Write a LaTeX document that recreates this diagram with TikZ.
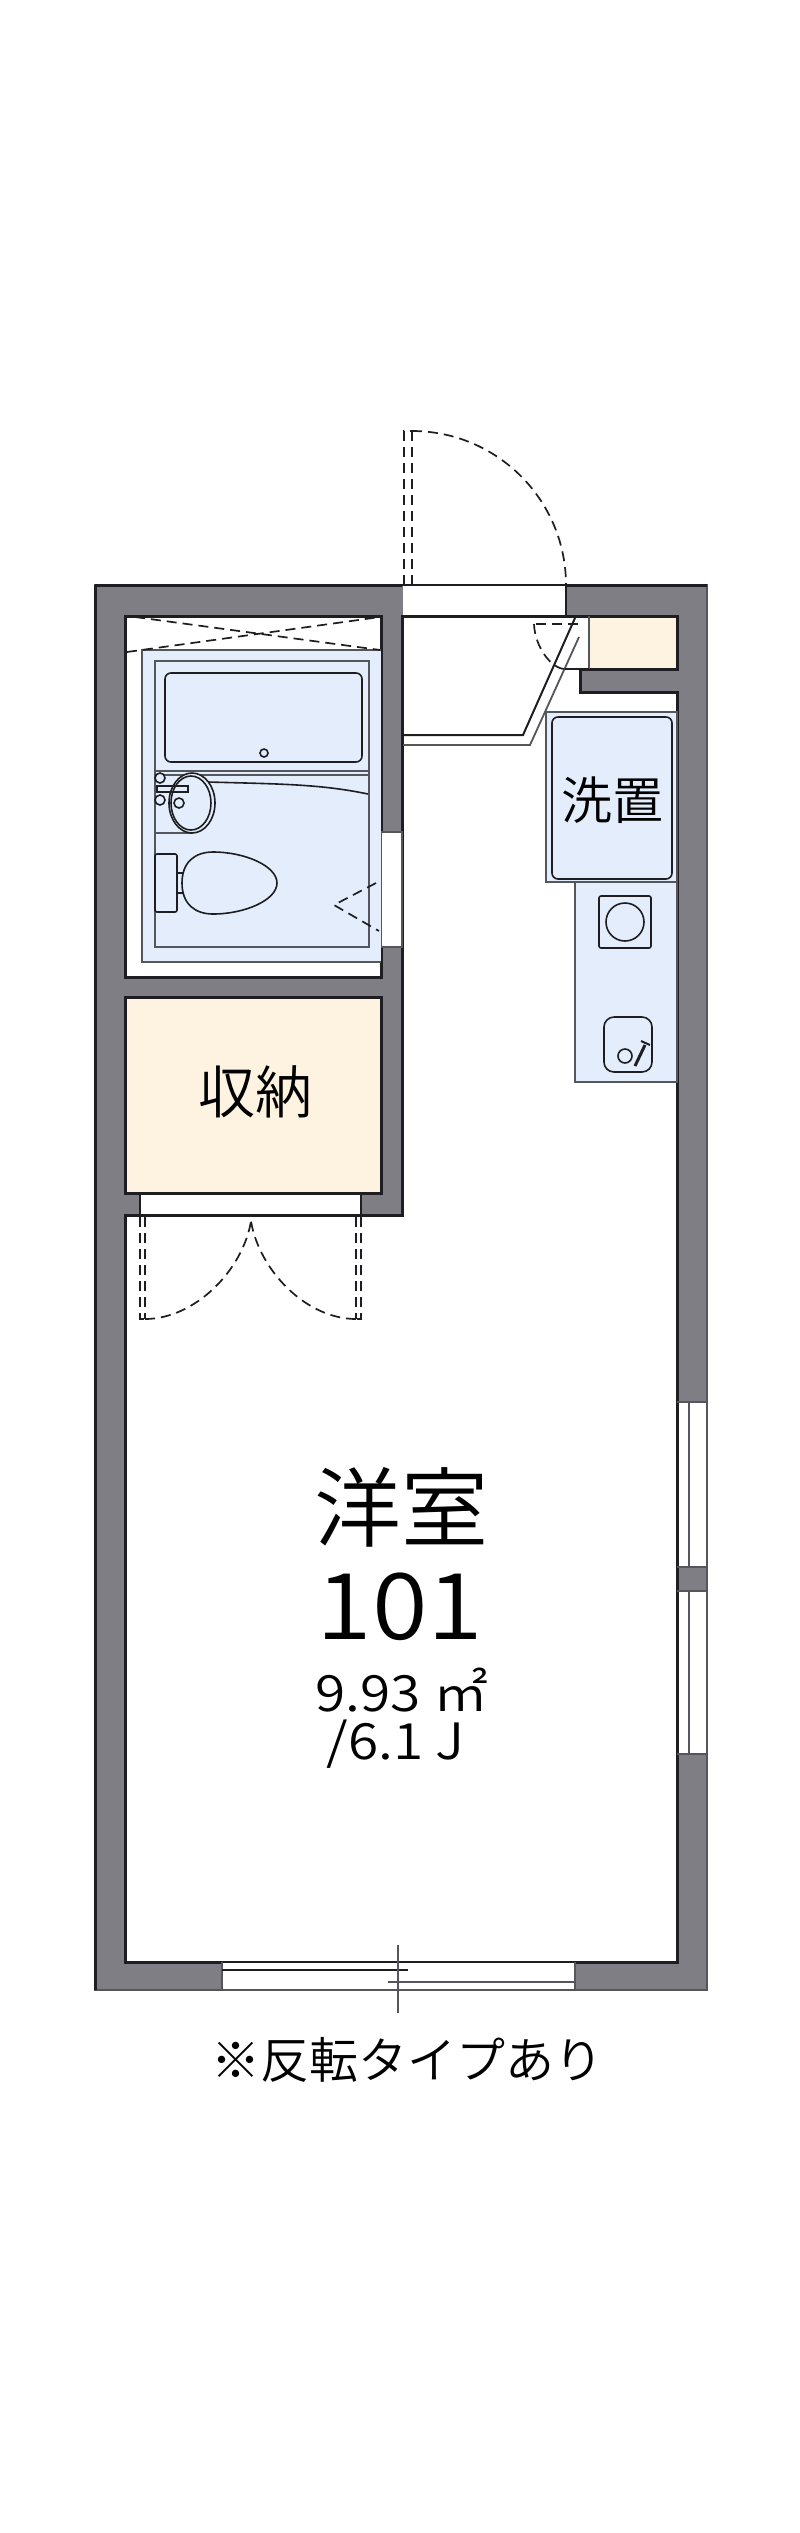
\documentclass[tikz,border=0pt]{standalone}
\usepackage{fontspec}
\setmainfont{Noto Sans CJK JP DemiLight}
\newfontface\widefont[FakeStretch=1.1]{Noto Sans CJK JP DemiLight}
\definecolor{wallgray}{HTML}{7F7E84}
\definecolor{fixblue}{HTML}{E3EDFB}
\definecolor{storecream}{HTML}{FEF3E0}
\definecolor{linedark}{HTML}{1E1E22}
\definecolor{linegray}{HTML}{55565C}
\tikzset{
	wallline/.style={draw=linedark,line width=3pt,line join=miter},
	fixline/.style={draw=linegray,line width=1.8pt},
	thinline/.style={draw=linedark,line width=1.6pt},
	swing/.style={draw=linedark,line width=1.7pt,dash pattern=on 10pt off 6pt},
	roomlabel/.style={inner sep=0pt,text=black},
}
\begin{document}
\begin{tikzpicture}[x=1pt,y=-1pt]
	\useasboundingbox (0,0) rectangle (800,2533);
	%	walls
	\fill[white] (0,0) rectangle (800,2533);
	\draw[fill=wallgray,draw=linegray,line width=2pt] (95,585) rectangle (707,1990);
	\draw[wallline,fill=white] (402,616) -- (677,616) -- (677,669) -- (580,669) -- (580,692) -- (677,692) -- (677,1962) -- (125,1962) -- (125,1215) -- (402,1215) -- cycle;
	\draw[wallline,fill=white] (125,616) rectangle (381,977);
	\draw[wallline,fill=storecream] (125,997) rectangle (381,1193);
	\draw[line width=3pt,draw=linedark] (95,585) -- (402,585) (566,585) -- (707,585);
	\draw[line width=3pt,draw=linedark] (95,585) -- (95,1990);
	%	openings
	\fill[white] (403,586) rectangle (566,615);
	\draw[thinline,line width=2pt] (402,585) -- (566,585) (566,585) -- (566,616);
	\fill[white] (141,1195) rectangle (360,1214);
	\draw[thinline] (140,1193) -- (140,1215) (361,1193) -- (361,1215);
	\draw[fill=white,draw=linegray,line width=1.4pt] (381,832) rectangle (402,947);
	\fill[white] (679,1403) rectangle (707,1566) (679,1592) rectangle (707,1753);
	\fill[white] (223,1963) rectangle (575,1990);
	\draw[fixline] (677,1402) -- (707,1402) (689,1402) -- (689,1567) (677,1567) -- (707,1567);
	\draw[fixline] (677,1591) -- (707,1591) (689,1591) -- (689,1754) (677,1754) -- (707,1754) (707,1402) -- (707,1567) (707,1591) -- (707,1754);
	\draw[fixline] (222,1962) -- (222,1990) -- (575,1990) -- (575,1962);
	\draw[thinline] (222,1970) -- (408,1970);
	\draw[fixline] (388,1982) -- (575,1982);
	\draw[fixline,line width=2pt] (398,1945) -- (398,2013);
	%	cupboard by the entrance
	\fill[white] (579,618) rectangle (590,668);
	\fill[storecream] (590,618) rectangle (675.5,667.5);
	\draw[fixline,line width=2pt] (589,616) -- (589,669);
	%	entrance door
	\draw[swing] (404,585) -- (404,431) -- (412,431) (412,585) -- (412,431);
	\draw[swing] (412,431) arc[start angle=-90,end angle=0,radius=154];
	%	closet doors
	\draw[swing] (140,1217) -- (140,1319) -- (145,1319) (145,1217) -- (145,1319);
	\draw[swing] (145,1319) .. controls (195,1319) and (243,1270) .. (251,1221);
	\draw[swing] (361,1217) -- (361,1319) -- (356,1319) (356,1217) -- (356,1319);
	\draw[swing] (356,1319) .. controls (306,1319) and (259,1270) .. (251,1221);
	%	partition
	\draw[thinline,line width=2pt] (403,735) -- (523,735) -- (575,618);
	\draw[fixline] (403,745) -- (530,745) -- (579,637);
	\draw[swing] (578,624) -- (534,624);
	\draw[swing] (534,624) .. controls (535,648) and (552,669) .. (565,669);
	\draw[thinline] (565,669) -- (589,669);
	%	bath unit
	\draw[fixline,fill=fixblue] (381,650) -- (142,650) -- (142,962) -- (381,962);
	\draw[fixline] (155,661) rectangle (369,947);
	\draw[swing] (135,617) -- (380,650) (127,652) -- (380,617);
	\draw[thinline,rounded corners=6pt] (165,673) rectangle (362,762);
	\draw[thinline] (264,753) circle (4pt);
	\draw[fixline] (155,771) -- (369,771) (155,775) -- (369,775);
	\draw[thinline] (208,782) .. controls (280,784) and (320,784) .. (368,794);
	\draw[fixline] (155,833) -- (192,833);
	\draw[thinline,fill=fixblue] (192,803) ellipse (23pt and 30pt);
	\draw[thinline] (191,803) ellipse (20pt and 27pt);
	\draw[thinline,fill=fixblue] (160,778) circle (5pt) (160,800) circle (5pt);
	\draw[thinline] (157,786) -- (188,786) -- (188,792) -- (157,792) -- cycle;
	\draw[thinline] (179,803) circle (5pt);
	\draw[thinline,rounded corners=2pt] (155,854) rectangle (177,912);
	\draw[thinline] (177,873) -- (183,873) (177,893) -- (183,893);
	\draw[thinline,fill=fixblue] (182,883) .. controls (182,862) and (195,852) .. (213,852) .. controls (245,852) and (277,866) .. (277,883) .. controls (277,900) and (245,914) .. (213,914) .. controls (195,914) and (182,904) .. (182,883) -- cycle;
	\draw[swing] (376,883) -- (334,905) -- (379,931);
	%	washer place and kitchen
	\draw[fixline,fill=fixblue] (575,882) rectangle (677,1082);
	\draw[fixline,fill=fixblue] (546,712) rectangle (677,882);
	\draw[thinline,rounded corners=6pt] (552,717) rectangle (672,879);
	\draw[thinline,rounded corners=2pt] (599,896) rectangle (651,948);
	\draw[thinline] (625,922) circle (19pt);
	\draw[thinline,rounded corners=10pt] (604,1017) rectangle (652,1072);
	\draw[thinline] (625,1056) circle (7pt);
	\draw[line width=3pt,draw=linedark] (635,1066) -- (645,1045);
	\draw[line width=2pt,draw=linedark] (641,1041) -- (650,1045);
	%	room labels
	\node[roomlabel,font=\fontsize{51}{51}\selectfont] (washlabel) at (612,800) {洗置};
	\node[roomlabel,font=\fontsize{57}{57}\selectfont] (storelabel) at (255,1092) {収納};
	\node[roomlabel,font=\fontsize{87}{87}\selectfont] (roomname) at (401,1507) {洋室};
	\node[roomlabel,font=\widefont\fontsize{92}{92}\selectfont] (roomno) at (400,1607) {101};
	\node[roomlabel,font=\widefont\fontsize{50}{50}\selectfont] (roomarea) at (402,1690) {9.93 ㎡};
	\node[roomlabel,font=\widefont\fontsize{50}{50}\selectfont] (roomsize) at (396,1744) {/6.1 J};
	\node[roomlabel,font=\fontsize{49}{49}\selectfont] (revnote) at (407,2060) {※反転タイプあり};
\end{tikzpicture}
\end{document}
